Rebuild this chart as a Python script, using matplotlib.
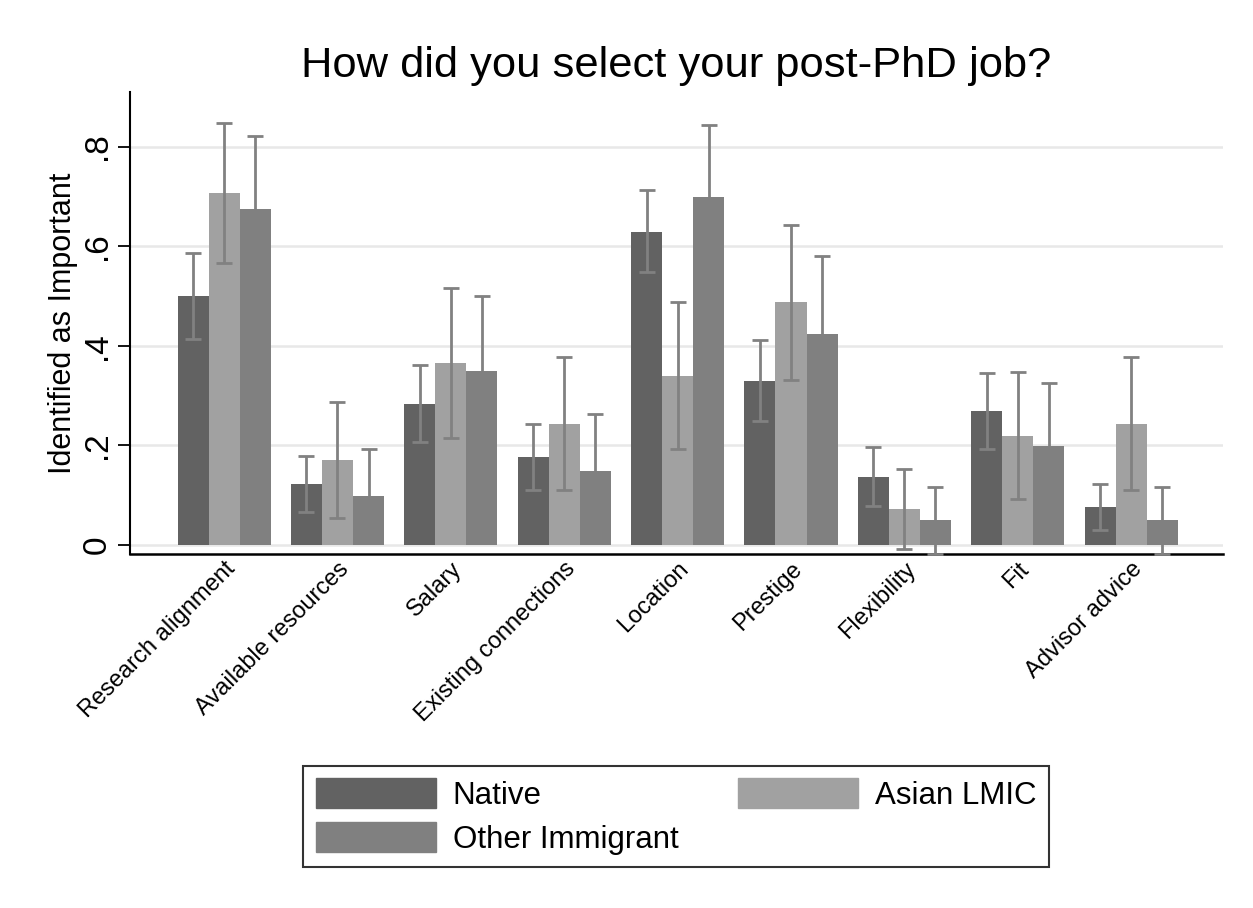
import numpy as np
import matplotlib.pyplot as plt
from matplotlib.patches import Patch

plt.rcParams['font.family'] = ['Liberation Sans', 'DejaVu Sans']

reasons = ['Research alignment', 'Available resources', 'Salary',
           'Existing connections', 'Location', 'Prestige', 'Flexibility',
           'Fit', 'Advisor advice']

# share identifying each reason as important, with 95% CI bounds
native = [0.499, 0.122, 0.283, 0.176, 0.629, 0.329, 0.137, 0.268, 0.076]
native_lo = [0.413, 0.066, 0.206, 0.110, 0.547, 0.248, 0.078, 0.192, 0.030]
native_hi = [0.586, 0.179, 0.361, 0.242, 0.713, 0.412, 0.197, 0.345, 0.122]

asian = [0.706, 0.170, 0.365, 0.243, 0.340, 0.487, 0.072, 0.219, 0.243]
asian_lo = [0.566, 0.054, 0.215, 0.110, 0.193, 0.332, -0.008, 0.092, 0.110]
asian_hi = [0.848, 0.287, 0.515, 0.377, 0.488, 0.642, 0.153, 0.347, 0.377]

other = [0.675, 0.098, 0.349, 0.149, 0.699, 0.424, 0.049, 0.199, 0.049]
other_lo = [0.528, 0.003, 0.199, 0.036, 0.555, 0.268, -0.019, 0.073, -0.019]
other_hi = [0.822, 0.193, 0.499, 0.262, 0.843, 0.580, 0.117, 0.325, 0.117]

c_native = '#626262'
c_asian = '#a1a1a1'
c_other = '#808080'
c_err = '#818181'

fig = plt.figure(figsize=(12.53, 9.08), dpi=100)
ax = fig.add_axes([130 / 1253, 1 - 554 / 908, 1093 / 1253, 462 / 908])

x = np.arange(len(reasons))
w = 0.274

def draw_err(xpos, mean, lo, hi, z):
    mean = np.array(mean)
    yerr = [mean - np.array(lo), np.array(hi) - mean]
    ax.errorbar(xpos, mean, yerr=yerr, fmt='none', ecolor=c_err,
                elinewidth=2.0, capsize=5.8, capthick=2.0, zorder=z,
                clip_on=False)

ax.bar(x - w, native, w, color=c_native, zorder=2, linewidth=0)
ax.bar(x, asian, w, color=c_asian, zorder=2, linewidth=0)
draw_err(x - w, native, native_lo, native_hi, 3)
draw_err(x, asian, asian_lo, asian_hi, 3)
draw_err(x + w, other, other_lo, other_hi, 3)
# the third series sits over its own error bars
ax.bar(x + w, other, w, color=c_other, zorder=4, linewidth=0)

ax.set_xlim(-0.83, 8.81)
ax.set_ylim(-0.0185, 0.9096)
ax.set_yticks([0, 0.2, 0.4, 0.6, 0.8])
ax.set_yticklabels(['0', '.2', '.4', '.6', '.8'], fontsize=24)
ax.tick_params(axis='y', length=8.6, width=1.3, pad=3.5, labelrotation=90)
for lab in ax.get_yticklabels():
    lab.set_va('center')
ax.set_xticks(x)
ax.set_xticklabels(reasons, rotation=45, ha='right', rotation_mode='anchor',
                   fontsize=17)
ax.tick_params(axis='x', length=0, pad=3)

ax.grid(axis='y', color='#e8e8e8', linewidth=1.8, zorder=0)
ax.set_axisbelow(True)
for side in ['top', 'right']:
    ax.spines[side].set_visible(False)
ax.spines['left'].set_linewidth(1.5)
ax.spines['bottom'].set_linewidth(1.8)

ax.set_ylabel('Identified as Important', fontsize=22, labelpad=3)

fig.text(676 / 1253, 1 - 77 / 908, 'How did you select your post-PhD job?',
         fontsize=31.3, ha='center', va='baseline')

handles = [Patch(color=c_native, label='Native'),
           Patch(color=c_other, label='Other Immigrant'),
           Patch(color=c_asian, label='Asian LMIC')]
leg = fig.legend(handles=handles, ncol=2, loc='center',
                 bbox_to_anchor=(676 / 1253, 1 - 816.5 / 908), fontsize=22.5,
                 frameon=True, fancybox=False, edgecolor='black',
                 handlelength=3.84, handleheight=1.1, handletextpad=0.55,
                 columnspacing=1.9, labelspacing=0.35, borderpad=0.4)
leg.get_frame().set_linewidth(1.5)

fig.savefig('out.png', dpi=100, facecolor='white')
